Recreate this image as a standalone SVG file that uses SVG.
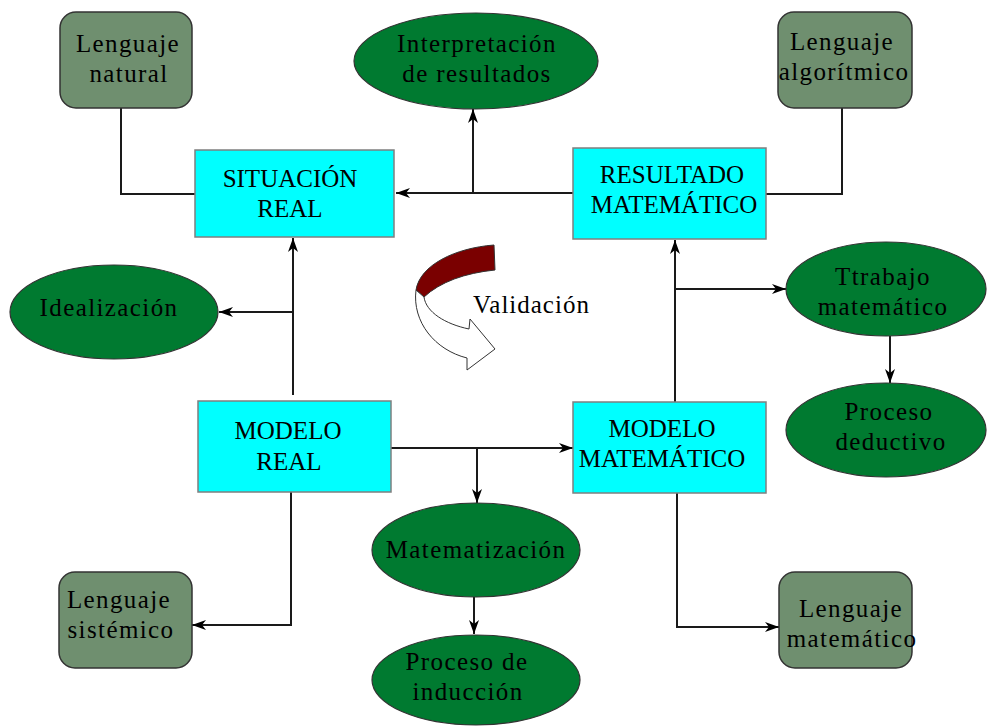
<svg xmlns="http://www.w3.org/2000/svg" width="988" height="726" viewBox="0 0 988 726">
<style>
text{font-family:"Liberation Serif","Times New Roman",serif;font-size:25px;fill:#000;text-anchor:middle}
.lc{letter-spacing:1.4px}
.box{fill:#00ffff;stroke:#7f7f7f;stroke-width:1.5}
.lang{fill:#6f8f6f;stroke:#333;stroke-width:1.5}
.ell{fill:#007a30;stroke:#333;stroke-width:1.2}
.conn path{fill:none;stroke:#1a1a1a;stroke-width:2}
.arr{marker-end:url(#ah)}
</style>
<defs>
<marker id="ah" viewBox="0 0 14 10" refX="14" refY="5" markerWidth="14" markerHeight="10" orient="auto" markerUnits="userSpaceOnUse">
<path d="M0,0 L14,5 L0,10 L4,5 Z" fill="#000"/>
</marker>
</defs>
<rect width="988" height="726" fill="#fff"/>

<g class="conn" id="connectors">
<path class="arr" d="M573,193 H396"/>
<path class="arr" d="M473,193 V109"/>
<path d="M121,108 V194 H195"/>
<path d="M842,108 V194 H766"/>
<path class="arr" d="M293,395 V238"/>
<path class="arr" d="M293,312 H219"/>
<path class="arr" d="M388,448 H573"/>
<path class="arr" d="M477,448 V503"/>
<path class="arr" d="M474,597 V634"/>
<path class="arr" d="M291,492 V625 H192"/>
<path class="arr" d="M675,402 V240"/>
<path class="arr" d="M675,289 H786"/>
<path class="arr" d="M890,336 V383"/>
<path class="arr" d="M677,493 V627 H779"/>
</g>

<g id="lenguaje-natural">
<rect class="lang" x="60" y="12" width="132" height="96" rx="16"/>
<text class="lc" x="128" y="52">Lenguaje</text>
<text class="lc" x="129" y="82">natural</text>
</g>

<g id="interpretacion">
<ellipse class="ell" cx="476" cy="61" rx="122" ry="48"/>
<text class="lc" x="477" y="52">Interpretación</text>
<text class="lc" x="477" y="82">de resultados</text>
</g>

<g id="lenguaje-algoritmico">
<rect class="lang" x="778" y="12" width="134" height="96" rx="16"/>
<text class="lc" x="842" y="50">Lenguaje</text>
<text class="lc" x="844" y="80">algorítmico</text>
</g>

<g id="situacion-real">
<rect class="box" x="195" y="150" width="199" height="87"/>
<text x="290" y="187">SITUACIÓN</text>
<text x="290" y="217">REAL</text>
</g>

<g id="resultado-matematico">
<rect class="box" x="573" y="148" width="193" height="91"/>
<text x="672" y="183">RESULTADO</text>
<text x="674" y="213">MATEMÁTICO</text>
</g>

<g id="idealizacion">
<ellipse class="ell" cx="114" cy="312" rx="104" ry="47"/>
<text class="lc" x="109" y="316">Idealización</text>
</g>

<g id="validacion">
<path d="M494,245 C455,248 420,265 416,290 L424,297 C440,282 465,273 495,270 Z" fill="#7a0000" stroke="#333" stroke-width="1"/>
<path d="M416,290 C412,322 435,350 467,358 L467,370 L495,349 L470,319 L469,329 C445,324 426,312 424,297 Z" fill="#fff" stroke="#333" stroke-width="1"/>
<text x="473" y="313" style="text-anchor:start;letter-spacing:1px">Validación</text>
</g>

<g id="ttrabajo">
<ellipse class="ell" cx="886" cy="289" rx="100" ry="47"/>
<text class="lc" x="883" y="285">Ttrabajo</text>
<text class="lc" x="883" y="315">matemático</text>
</g>

<g id="proceso-deductivo">
<ellipse class="ell" cx="886" cy="430" rx="100" ry="47"/>
<text class="lc" x="889" y="420">Proceso</text>
<text class="lc" x="891" y="450">deductivo</text>
</g>

<g id="modelo-real">
<rect class="box" x="198" y="401" width="193" height="91"/>
<text x="288" y="439">MODELO</text>
<text x="289" y="470">REAL</text>
</g>

<g id="modelo-matematico">
<rect class="box" x="573" y="402" width="193" height="91"/>
<text x="662" y="437">MODELO</text>
<text x="662" y="467">MATEMÁTICO</text>
</g>

<g id="matematizacion">
<ellipse class="ell" cx="476" cy="550" rx="104" ry="47"/>
<text class="lc" x="476" y="558">Matematización</text>
</g>

<g id="proceso-induccion">
<ellipse class="ell" cx="476" cy="680" rx="104" ry="45"/>
<text class="lc" x="467" y="670">Proceso de</text>
<text class="lc" x="468" y="700">inducción</text>
</g>

<g id="lenguaje-sistemico">
<rect class="lang" x="59" y="572" width="133" height="96" rx="16"/>
<text class="lc" x="119" y="608">Lenguaje</text>
<text class="lc" x="121" y="638">sistémico</text>
</g>

<g id="lenguaje-matematico">
<rect class="lang" x="779" y="572" width="133" height="96" rx="16"/>
<text class="lc" x="851" y="617">Lenguaje</text>
<text class="lc" x="852" y="647">matemático</text>
</g>
</svg>
